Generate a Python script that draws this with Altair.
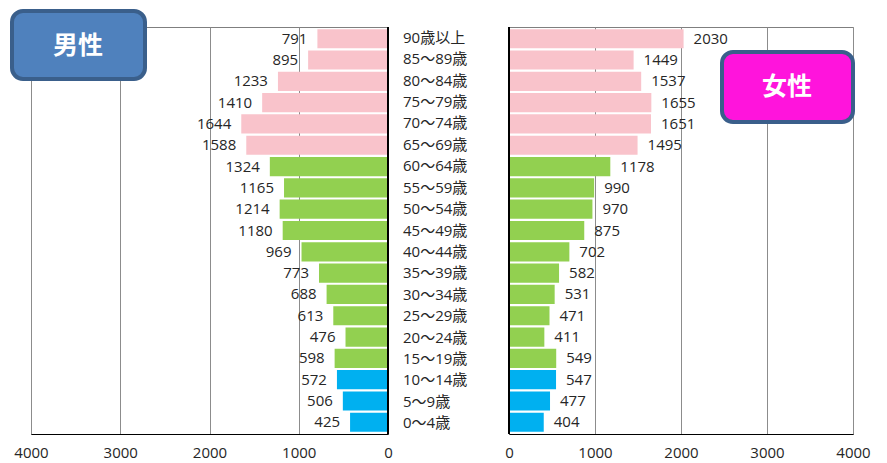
import altair as alt
import pandas as pd

categories = ["90歳以上", "85～89歳", "80～84歳", "75～79歳", "70～74歳", "65～69歳",
              "60～64歳", "55～59歳", "50～54歳", "45～49歳", "40～44歳", "35～39歳",
              "30～34歳", "25～29歳", "20～24歳", "15～19歳", "10～14歳", "5～9歳", "0～4歳"]
male = [791, 895, 1233, 1410, 1644, 1588, 1324, 1165, 1214, 1180, 969, 773, 688, 613, 476, 598, 572, 506, 425]
female = [2030, 1449, 1537, 1655, 1651, 1495, 1178, 990, 970, 875, 702, 582, 531, 471, 411, 549, 547, 477, 404]
groups = ["高齢"] * 6 + ["生産"] * 10 + ["年少"] * 3
axis_ticks = [0, 1000, 2000, 3000, 4000]

df = pd.DataFrame({"cat": categories, "male": male, "female": female, "grp": groups})

FONT = "Open Sans, Noto Sans CJK JP"
CJK = "Noto Sans CJK JP"
TXT = "#262626"
H = 407
FS = 15

yenc = alt.Y("cat:N", sort=categories,
             scale=alt.Scale(paddingInner=0.1, paddingOuter=0.1), axis=None)
color = alt.Color("grp:N", scale=alt.Scale(domain=["高齢", "生産", "年少"],
                                           range=["#F9C3CB", "#92D050", "#00B0F0"]),
                  legend=None)

def xaxis():
    return alt.Axis(values=axis_ticks, format="d", ticks=False, domainColor="#000000", domainWidth=1.2,
                    gridColor="#8C8C8C", gridWidth=1, labelFont=FONT, labelFontSize=15,
                    labelColor=TXT, labelPadding=11, title=None, labelFlush=False)

# Left (male) panel
lx = alt.X("male:Q", scale=alt.Scale(domain=[0, 4000], reverse=True), axis=xaxis())
left_bars = alt.Chart(df).mark_bar().encode(x=lx, y=yenc, color=color)
left_lbl = alt.Chart(df).mark_text(align="right", dx=-10, font=FONT, fontSize=FS, color=TXT).encode(
    x=alt.X("male:Q", scale=alt.Scale(domain=[0, 4000], reverse=True)), y=yenc, text="male:Q")
left_axis_line = alt.Chart(df).mark_rule(color="#000000", strokeWidth=1.2).encode(
    x=alt.value(357), y=alt.value(0), y2=alt.value(H))
box_m = alt.Chart(pd.DataFrame({"t": ["男性"]})).mark_rect(
    fill="#4F81BD", stroke="#3A5F8B", strokeWidth=4, cornerRadius=11).encode(
    x=alt.value(-19), x2=alt.value(114), y=alt.value(-16), y2=alt.value(52))
box_m_t = alt.Chart(pd.DataFrame({"t": ["男性"]})).mark_text(
    font=CJK, fontSize=25, fontWeight="bold", color="white").encode(
    x=alt.value(47), y=alt.value(19), text="t:N")
left = alt.layer(left_bars, left_lbl, left_axis_line, box_m, box_m_t).properties(width=357, height=H)

# Middle labels
mid = alt.Chart(df).mark_text(align="left", font=FONT, fontSize=FS, color=TXT).encode(
    x=alt.value(15), y=yenc, text="cat:N").properties(
    width=121, height=H, view=alt.ViewBackground(stroke="transparent"))

# Right (female) panel
rx = alt.X("female:Q", scale=alt.Scale(domain=[0, 4000]), axis=xaxis())
right_bars = alt.Chart(df).mark_bar().encode(x=rx, y=yenc, color=color)
right_lbl = alt.Chart(df).mark_text(align="left", dx=10, font=FONT, fontSize=FS, color=TXT).encode(
    x=alt.X("female:Q", scale=alt.Scale(domain=[0, 4000])), y=yenc, text="female:Q")
right_axis_line = alt.Chart(df).mark_rule(color="#000000", strokeWidth=1.2).encode(
    x=alt.value(0), y=alt.value(0), y2=alt.value(H))
box_f = alt.Chart(pd.DataFrame({"t": ["女性"]})).mark_rect(
    fill="#FF14DC", stroke="#3A5F8B", strokeWidth=4, cornerRadius=11).encode(
    x=alt.value(213), x2=alt.value(344), y=alt.value(25), y2=alt.value(95))
box_f_t = alt.Chart(pd.DataFrame({"t": ["女性"]})).mark_text(
    font=CJK, fontSize=25, fontWeight="bold", color="white").encode(
    x=alt.value(278), y=alt.value(60), text="t:N")
right = alt.layer(right_bars, right_lbl, right_axis_line, box_f, box_f_t).properties(width=344, height=H)

chart = alt.hconcat(left, mid, right, spacing=0, bounds="flush").properties(
    padding={"left": 1, "top": 0, "right": 5, "bottom": 5}
).configure_view(stroke="#7F7F7F", strokeWidth=1).configure_axis(grid=True)

chart.save("out.html", embed_options={"renderer": "svg", "actions": False})
